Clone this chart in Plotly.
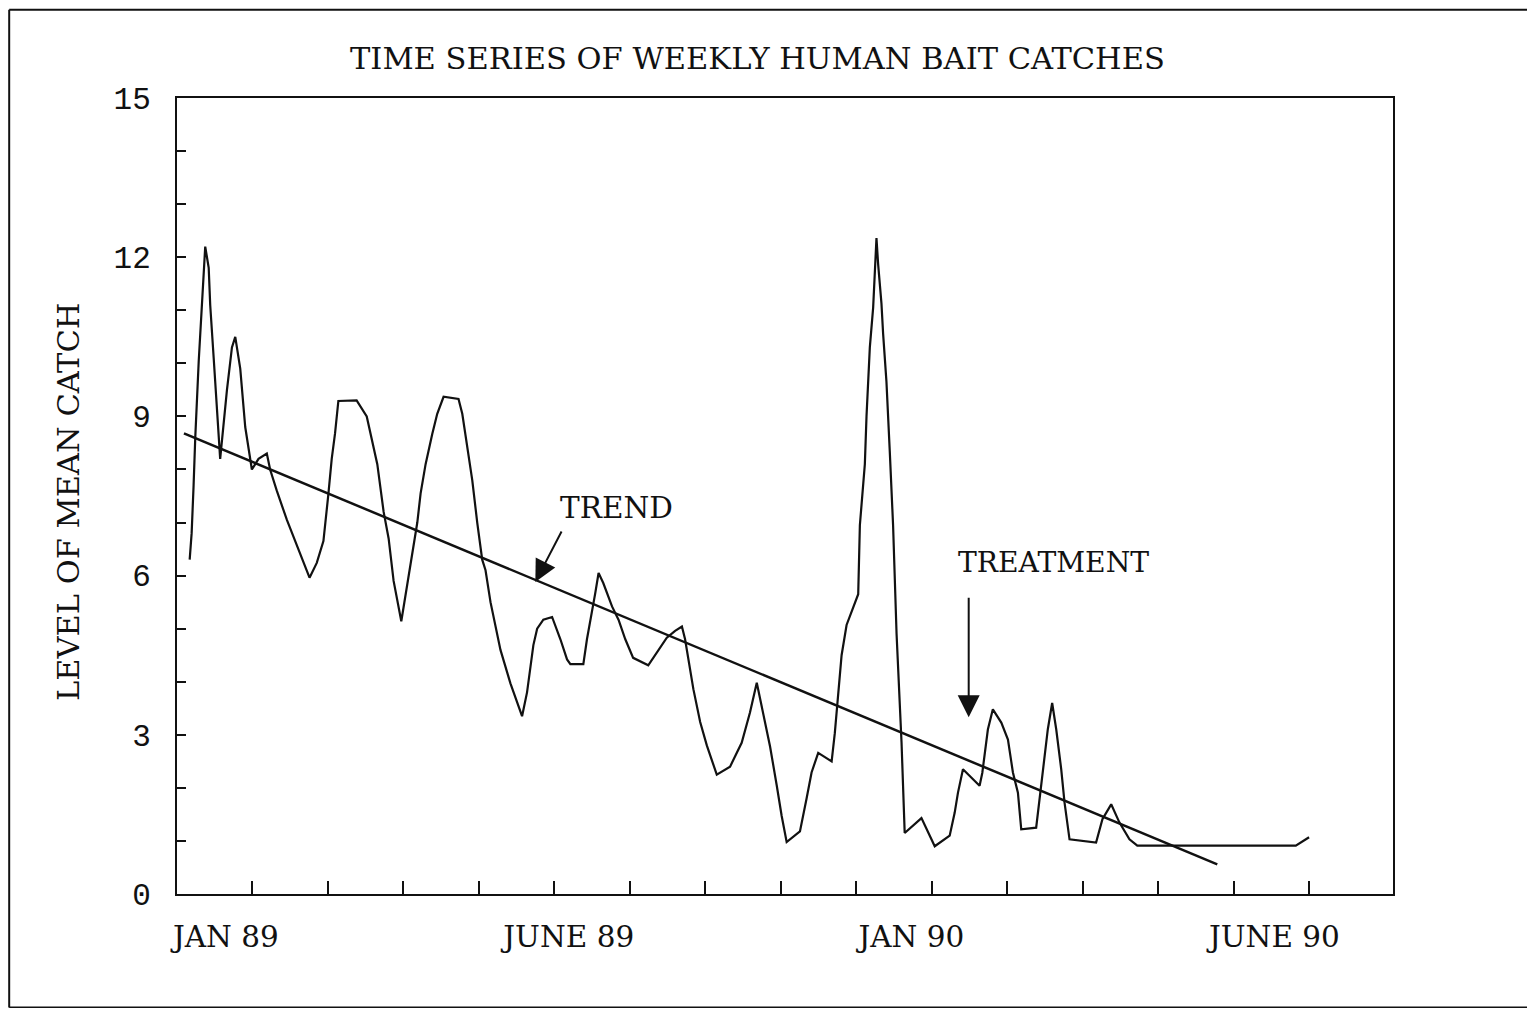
import plotly.graph_objects as go

_INK = "#111111"
_SERIF = "DejaVu Serif, Liberation Serif, serif"
_MONO = "Liberation Mono, DejaVu Sans Mono, monospace"

# weekly mean catch, x in weeks from the start of the record
catch_weeks = [
    0.84, 0.97, 1.10, 1.21, 1.44, 1.65, 1.87, 2.10, 2.20, 2.43, 2.65, 2.76, 2.86,
    3.31, 3.64, 3.86, 4.19, 4.52, 4.85, 4.96, 5.40, 5.95, 6.17, 6.61, 7.28, 7.94,
    8.38, 8.78, 9.26, 9.70, 10.03, 10.25, 10.47, 10.69, 11.90, 12.57, 13.27, 13.69,
    14.02, 14.35, 14.86, 15.15, 15.67, 15.92, 16.14, 16.47, 16.91, 17.24, 17.66,
    18.65, 18.90, 19.23, 19.56, 19.89, 20.22, 20.44, 20.77, 21.43, 22.09, 22.86,
    23.19, 23.61, 23.86, 24.27, 24.85, 25.40, 25.84, 26.06, 26.92, 27.16, 27.49,
    27.71, 27.93, 28.24, 28.82, 29.25, 29.70, 30.22, 31.22, 31.79, 32.45, 33.00,
    33.45, 33.66, 33.78, 34.21, 34.66, 35.10, 35.76, 36.64, 37.41, 37.96, 38.41,
    38.82, 39.29, 39.73, 40.06, 40.39, 41.27, 41.71, 42.04, 42.48, 43.37, 43.58,
    43.80, 44.03, 44.36, 45.13, 45.24, 45.57, 45.68, 45.90, 46.12, 46.23, 46.34,
    46.45, 46.67, 46.78, 47.00, 47.22, 47.44, 47.67, 47.88, 48.00, 48.21, 49.32,
    50.20, 51.19, 51.52, 51.74, 52.07, 52.51, 53.17, 53.35, 53.50, 53.72, 54.05,
    54.61, 55.05, 55.38, 55.71, 55.93, 56.92, 57.14, 57.47, 57.69, 57.98, 58.25,
    58.58, 58.80, 59.13, 60.89, 61.31, 61.89, 62.43, 63.10, 63.62, 74.12, 75.00,
]
catch_values = [
    6.30, 6.80, 7.70, 8.60, 10.05, 11.00, 12.20, 11.80, 11.10, 10.10, 9.20, 8.60, 8.20,
    9.50, 10.30, 10.50, 9.90, 8.80, 8.15, 8.00, 8.20, 8.30, 8.00, 7.60, 7.05, 6.57,
    6.24, 5.96, 6.24, 6.65, 7.54, 8.20, 8.68, 9.29, 9.30, 9.00, 8.10, 7.20,
    6.70, 5.90, 5.14, 5.65, 6.50, 7.00, 7.55, 8.10, 8.67, 9.05, 9.37,
    9.33, 9.05, 8.40, 7.80, 7.00, 6.30, 6.10, 5.50, 4.60, 3.97, 3.35,
    3.80, 4.69, 5.00, 5.17, 5.22, 4.80, 4.42, 4.33, 4.33, 4.80, 5.30,
    5.67, 6.05, 5.86, 5.42, 5.17, 4.80, 4.45, 4.31, 4.55, 4.83, 4.96,
    5.04, 4.80, 4.60, 3.86, 3.24, 2.80, 2.25, 2.40, 2.85, 3.42, 3.98,
    3.44, 2.78, 2.05, 1.47, 0.98, 1.18, 1.80, 2.29, 2.66, 2.50, 3.03,
    3.76, 4.50, 5.07, 5.65, 6.95, 8.10, 9.00, 10.30, 11.05, 11.87, 12.36,
    11.87, 11.13, 10.56, 9.66, 8.35, 6.95, 4.91, 3.68, 2.86, 1.15, 1.43,
    0.90, 1.10, 1.53, 1.91, 2.35, 2.22, 2.04, 2.28, 2.66, 3.10, 3.48,
    3.23, 2.91, 2.29, 1.91, 1.22, 1.25, 1.78, 2.54, 3.10, 3.60, 3.10,
    2.35, 1.72, 1.03, 0.97, 1.41, 1.69, 1.35, 1.03, 0.91, 0.91, 1.07,
]

trend_weeks = [0.46, 68.92]
trend_values = [8.68, 0.56]

tick_weeks = [5, 10, 15, 20, 25, 30, 35, 40, 45, 50, 55, 60, 65, 70, 75]
month_weeks = [3.24, 25.95, 48.65, 72.7]
month_labels = ["JAN 89", "JUNE 89", "JAN 90", "JUNE 90"]

y_ticks = [0, 3, 6, 9, 12, 15]

fig = go.Figure()
fig.add_trace(go.Scatter(
    x=catch_weeks, y=catch_values, mode="lines",
    line=dict(color=_INK, width=2.2), showlegend=False,
))
fig.add_trace(go.Scatter(
    x=trend_weeks, y=trend_values, mode="lines",
    line=dict(color=_INK, width=2.5), showlegend=False,
))

fig.update_layout(
    paper_bgcolor="white",
    plot_bgcolor="white",
    margin=dict(l=169, r=134, t=90, b=114),
    font=dict(family=_SERIF, color=_INK, size=28),
    showlegend=False,
)
fig.update_xaxes(
    range=[0, 80.56], showgrid=False, zeroline=False,
    showline=True, linecolor=_INK, linewidth=2, mirror=True,
    tickvals=month_weeks, ticktext=month_labels, ticks="",
    tickfont=dict(family=_SERIF, size=29.5, color=_INK),
    ticklabelstandoff=16,
    minor=dict(tickvals=tick_weeks, ticks="inside", ticklen=13,
               tickcolor=_INK, tickwidth=2),
)
fig.update_yaxes(
    range=[0, 15], showgrid=False, zeroline=False,
    showline=True, linecolor=_INK, linewidth=2, mirror=True,
    tickvals=y_ticks, ticks="inside", ticklen=9, tickcolor=_INK, tickwidth=2,
    tickfont=dict(family=_MONO, size=31, color=_INK),
    ticklabelstandoff=18,
    minor=dict(dtick=1, ticks="inside", ticklen=9, tickcolor=_INK, tickwidth=2),
)

fig.add_annotation(
    text="TIME SERIES OF WEEKLY HUMAN BAIT CATCHES",
    xref="paper", yref="paper", x=0.477, y=1.0501,
    xanchor="center", yanchor="middle",
    showarrow=False, font=dict(size=30.5),
)
fig.add_annotation(
    text="LEVEL OF MEAN CATCH", textangle=-90,
    xref="paper", yref="paper", x=-0.0887, y=0.4925,
    xanchor="center", yanchor="middle",
    showarrow=False, font=dict(size=30.5),
)
fig.add_annotation(
    text="TREND", xref="x", yref="y", x=29.1, y=7.27,
    showarrow=False, font=dict(size=29.5),
)
fig.add_annotation(
    text="", xref="x", yref="y", x=23.74, y=5.88, ax=27, ay=-52,
    showarrow=True, arrowhead=2, arrowsize=2.2, arrowwidth=2, arrowcolor=_INK,
)
fig.add_annotation(
    text="TREATMENT", xref="x", yref="y", x=58.1, y=6.24,
    showarrow=False, font=dict(size=28.2),
)
fig.add_annotation(
    text="", xref="x", yref="y", x=52.45, y=3.33, ax=0, ay=-121,
    showarrow=True, arrowhead=2, arrowsize=2.2, arrowwidth=2, arrowcolor=_INK,
)

# outer frame of the page
for x0, y0, x1, y1 in [(-0.138, 1.111, 1.13, 1.111), (-0.138, 1.111, -0.138, -0.1425),
                       (-0.138, -0.1425, 1.13, -0.1425)]:
    fig.add_shape(type="line", xref="paper", yref="paper",
                  x0=x0, y0=y0, x1=x1, y1=y1, line=dict(color=_INK, width=2))

fig.write_html("out.html")
